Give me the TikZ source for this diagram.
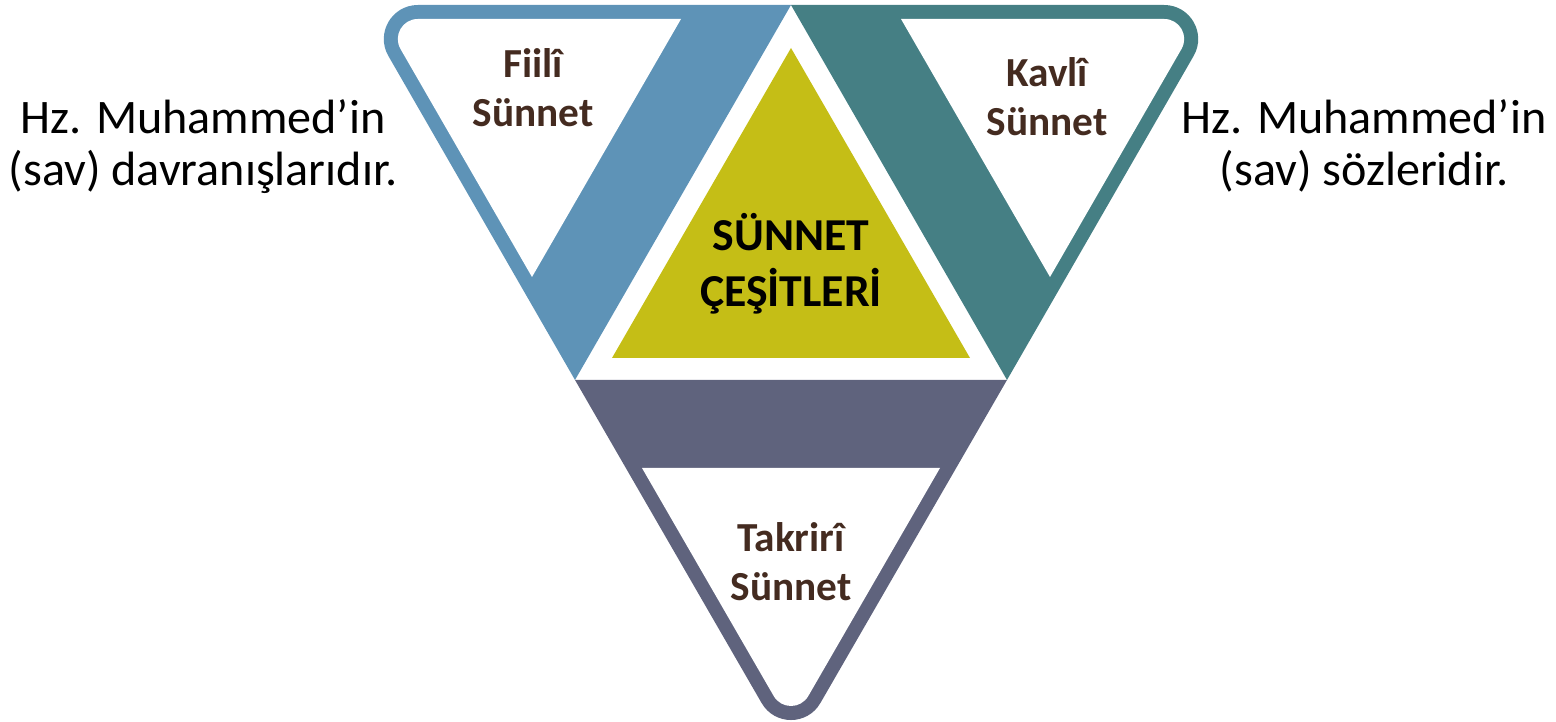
\documentclass[tikz,border=0pt]{standalone}
\usepackage{fontspec}
\setmainfont{Carlito}
\usepackage{tikz}

\definecolor{fiiliblue}{RGB}{94,147,183}
\definecolor{kavliteal}{RGB}{69,127,132}
\definecolor{takrirslate}{RGB}{95,99,125}
\definecolor{cesityellow}{RGB}{197,190,22}
\definecolor{labelbrown}{RGB}{68,43,32}

\begin{document}
\begin{tikzpicture}[x=0.02cm, y=-0.02cm,
    kind/.style={font=\bfseries\fontsize{23.5}{28}\selectfont, text=labelbrown, align=center, anchor=base},
    note/.style={font=\fontsize{27.4}{30}\selectfont, align=center, anchor=base}]

    \useasboundingbox (0,0) rectangle (1556,722);

    % fiili (left)
    \fill[fiiliblue] (791,5) -- (575,380) -- (388.4,56) .. controls (375.3,33.3) and (391.7,5) .. (417.9,5) -- cycle;
    \fill[white] (681,19) -- (532,277) -- (400.5,49) .. controls (392.8,35.7) and (402.4,19) .. (417.8,19) -- cycle;
    \node[kind] (fiili) at (533,127) {Fiilî\\Sünnet};
    \node[note] (fiilinote) at (203,186) {Hz. Muhammed’in\\(sav) davranışlarıdır.};

    % kavli (right)
    \fill[kavliteal] (791,5) -- (1007,380) -- (1193.6,56) .. controls (1206.7,33.3) and (1190.3,5) .. (1164.1,5) -- cycle;
    \fill[white] (901,19) -- (1050,277) -- (1181.5,49) .. controls (1189.2,35.7) and (1179.6,19) .. (1164.2,19) -- cycle;
    \node[kind] (kavli) at (1047,136) {Kavlî\\Sünnet};
    \node[note] (kavlinote) at (1364,186) {Hz. Muhammed’in\\(sav) sözleridir.};

    % takriri (bottom)
    \fill[takrirslate] (575,380) -- (1007,380) -- (820.4,703) .. controls (807.3,725.7) and (774.7,725.7) .. (761.6,703) -- cycle;
    \fill[white] (642,468) -- (940,468) -- (808.3,696) .. controls (800.6,709.3) and (781.4,709.3) .. (773.7,696) -- cycle;
    \node[kind] (takriri) at (791,601) {Takrirî\\Sünnet};

    % center
    \fill[cesityellow] (791,48) -- (970,358) -- (612,358) -- cycle;
    \node[font=\bfseries\fontsize{26}{32}\selectfont, align=center, anchor=base] (cesit) at (791,307) {SÜNNET\\ÇEŞİTLERİ};

\end{tikzpicture}
\end{document}
